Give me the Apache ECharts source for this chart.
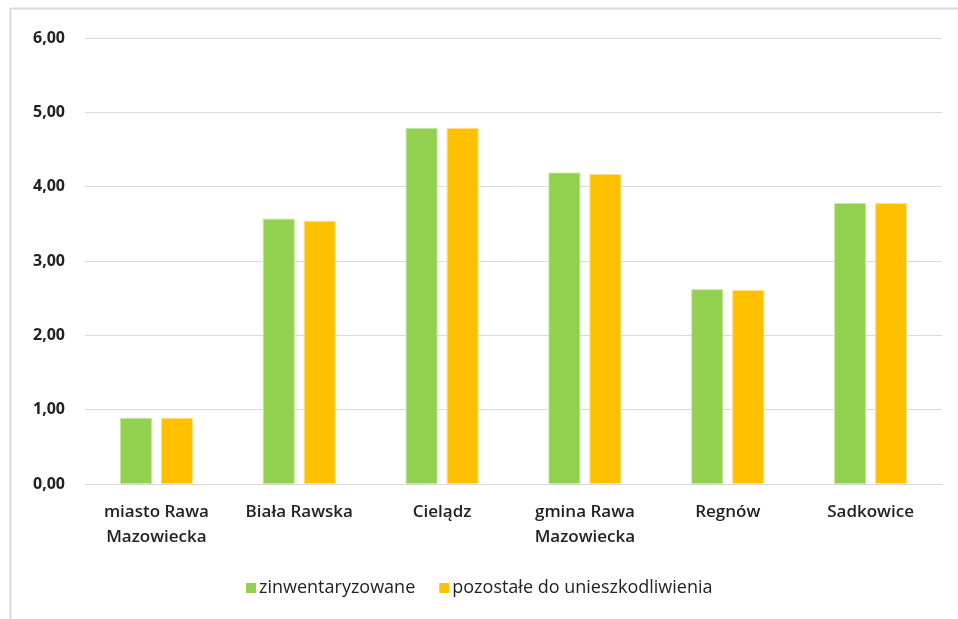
<!DOCTYPE html>
<html>
<head>
<meta charset="utf-8">
<script src="https://cdn.jsdelivr.net/npm/echarts@6/dist/echarts.min.js"></script>
<style>
  html, body { margin: 0; padding: 0; background: #fff; }
  #chart { width: 958px; height: 619px; }
</style>
</head>
<body>
<div id="chart"></div>
<script>
var categories = ["miasto Rawa\nMazowiecka", "Biała Rawska", "Cielądz", "gmina Rawa\nMazowiecka", "Regnów", "Sadkowice"];
var seriesNames = ["zinwentaryzowane", "pozostałe do unieszkodliwienia"];
var inventoried = [0.89, 3.57, 4.79, 4.19, 2.62, 3.78];
var remaining = [0.89, 3.54, 4.79, 4.17, 2.61, 3.78];
var yTicks = [0, 1, 2, 3, 4, 5, 6];

var chart = echarts.init(document.getElementById("chart"));
var option = {
  animation: false,
  textStyle: { fontFamily: "'Open Sans', sans-serif" },
  graphic: [
    // frame of the original picture (top and left edge only)
    { type: "line", shape: { x1: 10, y1: 8.5, x2: 958, y2: 8.5 }, style: { stroke: "#d9d9d9", lineWidth: 2 } },
    { type: "line", shape: { x1: 10.5, y1: 8, x2: 10.5, y2: 619 }, style: { stroke: "#d9d9d9", lineWidth: 2 } }
  ],
  legend: {
    top: 574,
    left: 241,
    itemWidth: 10,
    itemHeight: 10,
    itemGap: 24,
    icon: "rect",
    itemStyle: { borderWidth: 0 },
    textStyle: { fontSize: 18, color: "#222", padding: [0, 0, 0, -2] },
    data: seriesNames
  },
  grid: { left: 85, right: 16, top: 38, bottom: 135 },
  xAxis: {
    type: "category",
    data: categories,
    axisLine: { show: true, lineStyle: { color: "#d9d9d9", width: 1 } },
    axisTick: { show: false },
    axisLabel: { color: "#222", fontSize: 17, fontWeight: 600, lineHeight: 25, margin: 16 }
  },
  yAxis: {
    type: "value",
    min: yTicks[0],
    max: yTicks[yTicks.length - 1],
    interval: 1,
    axisLine: { show: false },
    axisTick: { show: false },
    splitLine: { lineStyle: { color: "#d9d9d9", width: 1 } },
    axisLabel: {
      color: "#222", fontSize: 16, fontWeight: "bold", margin: 20,
      formatter: function (v) { return v.toFixed(2).replace(".", ","); }
    }
  },
  series: [
    {
      name: seriesNames[0], type: "bar", data: inventoried,
      barWidth: 32, barGap: "28%",
      itemStyle: { color: "#92d050", borderColor: "#c6e6a4", borderWidth: 1 }
    },
    {
      name: seriesNames[1], type: "bar", data: remaining,
      barWidth: 32,
      itemStyle: { color: "#ffc000", borderColor: "#ffe08a", borderWidth: 1 }
    }
  ]
};
chart.setOption(option);
</script>
</body>
</html>
